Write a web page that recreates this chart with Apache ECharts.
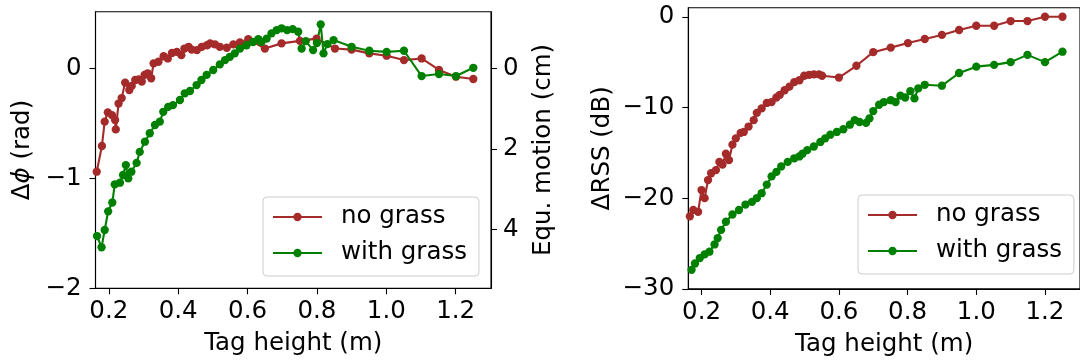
<!DOCTYPE html>
<html><head><meta charset="utf-8">
<script src="https://cdn.jsdelivr.net/npm/echarts@6/dist/echarts.min.js"></script>
<style>html,body{margin:0;padding:0;background:#fff}#c{width:1080px;height:363px}</style>
</head><body><div id="c"></div>
<script>
// ---- data ----
const seriesNames = ['no grass', 'with grass'];
const xTicks = [0.2, 0.4, 0.6, 0.8, 1.0, 1.2];
const phaseTicks = [-2, -1, 0];
const motionTicks = [0, 2, 4];
const rssTicks = [-30, -20, -10, 0];

const phaseNoGrassX = [0.165,0.180,0.188,0.197,0.209,0.218,0.220,0.228,0.237,0.247,0.259,0.266,0.276,0.286,0.295,0.303,0.312,0.322,0.329,0.343,0.358,0.370,0.382,0.396,0.409,0.418,0.430,0.439,0.454,0.468,0.483,0.492,0.506,0.520,0.540,0.559,0.578,0.602,0.650,0.698,0.751,0.799,0.852,0.900,0.951,1.001,1.051,1.102,1.152,1.201,1.251];
const phaseNoGrassY = [-0.94,-0.706,-0.485,-0.40,-0.425,-0.47,-0.555,-0.32,-0.27,-0.13,-0.197,-0.16,-0.106,-0.10,-0.12,-0.06,-0.045,-0.09,0.045,0.06,0.11,0.09,0.14,0.15,0.12,0.18,0.196,0.17,0.166,0.196,0.21,0.227,0.218,0.196,0.187,0.218,0.236,0.266,0.18,0.227,0.25,0.27,0.18,0.17,0.136,0.115,0.075,0.09,-0.015,-0.076,-0.097];

const phaseGrassX = [0.166,0.179,0.188,0.198,0.210,0.217,0.232,0.241,0.249,0.256,0.265,0.280,0.289,0.304,0.318,0.333,0.347,0.357,0.371,0.385,0.405,0.419,0.434,0.453,0.467,0.482,0.501,0.520,0.535,0.549,0.563,0.578,0.597,0.616,0.631,0.640,0.655,0.669,0.684,0.698,0.714,0.730,0.746,0.756,0.768,0.789,0.800,0.811,0.819,0.830,0.848,0.900,0.951,1.001,1.051,1.102,1.152,1.201,1.251];
const phaseGrassY = [-1.525,-1.627,-1.47,-1.30,-1.22,-1.055,-1.04,-0.97,-0.88,-1.0,-0.94,-0.86,-0.76,-0.667,-0.59,-0.515,-0.485,-0.395,-0.35,-0.334,-0.288,-0.227,-0.206,-0.152,-0.106,-0.06,-0.015,0.036,0.075,0.105,0.136,0.18,0.21,0.24,0.266,0.24,0.27,0.318,0.348,0.364,0.348,0.357,0.333,0.18,0.248,0.166,0.23,0.40,0.136,0.22,0.257,0.196,0.16,0.15,0.16,-0.07,-0.052,-0.07,0.005];

const rssNoGrassX = [0.166,0.176,0.190,0.200,0.209,0.219,0.228,0.242,0.252,0.261,0.271,0.280,0.290,0.300,0.314,0.323,0.337,0.352,0.361,0.375,0.390,0.404,0.418,0.428,0.442,0.456,0.470,0.485,0.499,0.513,0.527,0.542,0.551,0.600,0.651,0.700,0.751,0.801,0.850,0.900,0.950,1.000,1.052,1.100,1.149,1.200,1.251];
const rssNoGrassY = [-22.0,-21.3,-21.5,-19.1,-20.0,-18.0,-17.25,-16.9,-16.0,-16.3,-15.1,-15.8,-14.1,-13.4,-12.8,-12.7,-12.1,-11.4,-10.6,-10.1,-9.5,-9.4,-8.9,-8.6,-8.1,-7.7,-7.2,-7.0,-6.5,-6.4,-6.35,-6.35,-6.5,-6.7,-5.4,-3.9,-3.4,-2.9,-2.45,-2.0,-1.46,-0.99,-0.99,-0.47,-0.47,0.0,0.0];

const rssGrassX = [0.171,0.181,0.195,0.209,0.223,0.238,0.247,0.257,0.271,0.290,0.309,0.328,0.347,0.361,0.375,0.390,0.404,0.418,0.432,0.451,0.470,0.485,0.494,0.508,0.527,0.546,0.560,0.575,0.594,0.613,0.632,0.646,0.660,0.679,0.689,0.700,0.717,0.731,0.751,0.765,0.779,0.793,0.808,0.820,0.831,0.850,0.900,0.950,1.000,1.052,1.100,1.149,1.200,1.251];
const rssGrassY = [-27.9,-27.2,-26.6,-26.2,-25.9,-25.1,-24.4,-23.5,-22.6,-21.8,-21.3,-20.7,-20.4,-20.0,-19.45,-18.5,-17.6,-17.1,-16.5,-16.0,-15.6,-15.4,-15.1,-14.7,-14.3,-13.8,-13.4,-13.0,-12.7,-12.4,-11.9,-11.4,-11.6,-11.7,-11.2,-10.4,-9.7,-9.4,-9.2,-9.4,-8.7,-8.9,-8.2,-9.0,-7.9,-7.5,-7.6,-6.2,-5.5,-5.3,-5.0,-4.2,-5.0,-3.85];

// ---- chart ----
const FONT = 'DejaVu Sans';
const FS = 24.5;
const RED = '#a52a2a', GREEN = '#008000';
const zip = (xs, ys) => xs.map((x, i) => [x, ys[i]]);
const minusFmt = v => (v < 0 ? '\u2212' + Math.abs(v) : String(v));

function axisBase(ticks, fmt, margin) {
  return {
    axisLine: { show: true, onZero: false, lineStyle: { color: '#000', width: 1.1 } },
    axisTick: { show: true, inside: false, length: 6, customValues: ticks, lineStyle: { color: '#000', width: 1.1 } },
    axisLabel: { customValues: ticks, formatter: fmt, fontFamily: FONT, fontSize: FS, color: '#000', margin: margin },
    splitLine: { show: false },
    nameTextStyle: { fontFamily: FONT, fontSize: FS, color: '#000' }
  };
}

const xAxisCommon = (gi) => Object.assign(axisBase(xTicks, v => v.toFixed(1), 11), {
  type: 'value', gridIndex: gi, min: 0.1615, max: 1.302,
  name: 'Tag height (m)', nameLocation: 'middle', nameGap: 43
});

function lineSeries(name, xi, yi, data, color) {
  return {
    type: 'line', name: name, xAxisIndex: xi, yAxisIndex: yi, data: data,
    symbol: 'circle', symbolSize: 8.3, showSymbol: true,
    itemStyle: { color: color }, lineStyle: { color: color, width: 2.1 },
    emphasis: { disabled: true }, animation: false, clip: true
  };
}

const legendCommon = {
  orient: 'vertical', itemWidth: 49, itemHeight: 10.4, itemGap: 10,
  textStyle: { fontFamily: FONT, fontSize: FS, color: '#000', lineHeight: 26, padding: [0, 0, 0, 14] },
  backgroundColor: 'rgba(255,255,255,0.8)', borderColor: '#cccccc', borderWidth: 1, borderRadius: 4,
  padding: [7, 12, 10, 9], data: seriesNames, selectedMode: false
};

const chart = echarts.init(document.getElementById('c'), null, { renderer: 'canvas' });
chart.setOption({
  animation: false,
  backgroundColor: '#fff',
  grid: [
    { left: 95.5, top: 11.7, width: 395.5, height: 276.6, show: true, borderColor: '#000', borderWidth: 1.1, containLabel: false },
    { left: 688.3, top: 7.7, width: 400.2, height: 281.2, show: true, borderColor: '#000', borderWidth: 1.1, containLabel: false }
  ],
  xAxis: [xAxisCommon(0), xAxisCommon(1)],
  yAxis: [
    Object.assign(axisBase(phaseTicks, minusFmt, 14), {
      type: 'value', gridIndex: 0, min: -2, max: 0.515, position: 'left',
      name: 'Δ{p|ϕ} (rad)', nameLocation: 'middle', nameGap: 60, nameRotate: 90,
      nameTextStyle: { fontFamily: FONT, fontSize: FS, color: '#000', rich: { p: { fontFamily: FONT, fontSize: FS, fontStyle: 'italic', color: '#000' } } }
    }),
    Object.assign(axisBase(motionTicks, minusFmt, 12), {
      type: 'value', gridIndex: 0, min: -1.40, max: 5.45, inverse: true, position: 'right',
      name: 'Equ. motion (cm)', nameLocation: 'middle', nameGap: 40, nameRotate: 90
    }),
    Object.assign(axisBase(rssTicks, minusFmt, 14), {
      type: 'value', gridIndex: 1, min: -30, max: 1, position: 'left',
      name: 'ΔRSS (dB)', nameLocation: 'middle', nameGap: 73, nameRotate: 90
    })
  ],
  legend: [
    Object.assign({}, legendCommon, { left: 263, top: 197 }),
    Object.assign({}, legendCommon, { left: 858, top: 195 })
  ],
  series: [
    lineSeries(seriesNames[0], 0, 0, zip(phaseNoGrassX, phaseNoGrassY), RED),
    lineSeries(seriesNames[1], 0, 0, zip(phaseGrassX, phaseGrassY), GREEN),
    lineSeries(seriesNames[0], 1, 2, zip(rssNoGrassX, rssNoGrassY), RED),
    lineSeries(seriesNames[1], 1, 2, zip(rssGrassX, rssGrassY), GREEN)
  ]
});
</script></body></html>
